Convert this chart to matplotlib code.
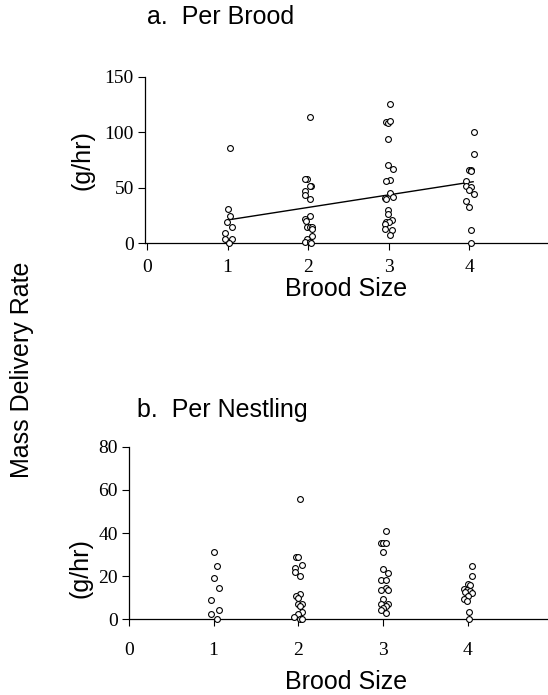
import matplotlib
matplotlib.use("Agg")
import matplotlib.pyplot as plt
import numpy as np

# ---------------- data ----------------
brood_sizes = [1, 2, 3, 4]

# a. per brood (g/hr), with small horizontal jitter (pixels) as seen in the figure
brood_a = {
    1: [85.6, 31.2, 24.6, 19.5, 14.7, 9.3, 3.9, 3.9, 0.5],
    2: [113.8, 58.2, 58.2, 51.6, 51.6, 47.4, 43.5, 40.2, 24.3, 22.2, 20.1,
        14.4, 14.4, 14.4, 12.9, 6.3, 3.6, 0.9, 0.9, 0.0],
    3: [125.5, 109.3, 108.5, 109.8, 94.2, 70.3, 66.7, 57.0, 56.1, 45.3, 42.0,
        40.5, 40.0, 29.7, 26.7, 21.3, 19.5, 19.5, 17.4, 13.2, 11.7, 7.5],
    4: [100.5, 80.5, 66.3, 66.3, 64.9, 56.4, 51.9, 50.4, 48.0, 44.7, 37.8,
        33.0, 11.7, 0.0],
}
jitter_a = {
    1: [2, 0, 2, -0.7, 4.7, -2.7, -2.3, 4.3, 1],
    2: [2, -0.7, -3, 3.3, 1.7, -3.3, -3, 1.7, 1.7, -3.3, -2.3, -0.7, 1.7, 3.7,
        4.3, 4, -0.7, -3.3, 1.7, 3.3],
    3: [1.3, -2.7, -0.7, 1.3, -0.7, -0.7, 4, 1.3, -2.7, 1.3, 4, -3.3, -2.7,
        -0.7, -0.7, 3.3, -2.7, 0, -3.3, -3.3, 3.3, 1],
    4: [5, 5, 0, 2.3, 2.3, -2.7, -2.7, 2.3, 0, 5, -2.7, 0, 2, 1.7],
}
reg_intercept = 9.7
reg_slope = 11.3
reg_x = [1.0, 4.05]

# b. per nestling (g/hr)
brood_b = {
    1: [31.0, 24.8, 19.3, 14.5, 9.1, 4.2, 2.3, 0.0],
    2: [55.8, 28.7, 28.7, 25.1, 23.9, 22.0, 19.9, 11.7, 11.0, 10.0, 6.9, 6.9,
        6.2, 3.4, 2.5, 1.0, 0.0, 0.0],
    3: [40.9, 35.5, 35.5, 35.5, 31.0, 23.1, 21.6, 18.0, 18.0, 14.5, 13.4, 13.4,
        9.3, 6.9, 6.9, 6.0, 5.2, 4.2, 2.9],
    4: [24.7, 20.0, 16.5, 15.7, 14.0, 13.5, 13.0, 12.5, 12.0, 11.0, 9.3, 8.3,
        3.2, 0.0],
}
jitter_b = {
    1: [0, 3.3, 0, 5.3, -2.7, 5.3, -2.7, 3],
    2: [2, -2.7, 0, 4, -3.3, -3.3, 2, 2, -2.7, 0, -0.7, 4, 2, 4, -0.7, -4, 2, 4],
    3: [3, -2.3, 0, 2.7, 0, 0, 5.3, -2.3, 3, 3, -2.3, 5.3, 0, -2.3, 5.3, 3, 0,
        -2.3, 3],
    4: [4, 4, 0, 2, -4, -0.7, 2, -2.3, 4.7, 0, -4, -0.7, 1.3, 1.3],
}

x_ticks = [0, 1, 2, 3, 4]
ya_ticks = [0, 50, 100, 150]
yb_ticks = [0, 20, 40, 60, 80]

# ---------------- figure ----------------
W, H = 548, 695
fig = plt.figure(figsize=(W / 100, H / 100), dpi=100)

serif = ["Liberation Serif", "DejaVu Serif"]
sans = ["Liberation Sans", "DejaVu Sans"]


def px_box(x0, x1, ytop, ybot):
    return [x0 / W, 1 - ybot / H, (x1 - x0) / W, (ybot - ytop) / H]


def style_axes(ax, yticks, xlim, ylim, xpad):
    ax.set_xlim(*xlim)
    ax.set_ylim(*ylim)
    for s in ["top", "right"]:
        ax.spines[s].set_visible(False)
    for s in ["left", "bottom"]:
        ax.spines[s].set_linewidth(0.9)
    ax.spines["bottom"].set_position(("data", 0))
    ax.set_xticks(x_ticks)
    ax.set_yticks(yticks)
    ax.tick_params(direction="out", length=5, width=0.8, labelsize=14, pad=3)
    for lab in ax.get_xticklabels() + ax.get_yticklabels():
        lab.set_family(serif)
    ax.tick_params(axis="x", pad=xpad)


def scatter_groups(ax, data, jitter, px_per_unit):
    for b in brood_sizes:
        vals = np.array(data[b], dtype=float)
        xs = b + np.array(jitter[b], dtype=float) / px_per_unit
        ax.plot(xs, vals, linestyle="none", marker="o", markersize=4.2,
                markerfacecolor="white", markeredgecolor="black",
                markeredgewidth=0.8, clip_on=False, zorder=3)


# panel a
ax1 = fig.add_axes(px_box(145, 548, 76.8, 243.3))
style_axes(ax1, ya_ticks, (-0.025, 4.98), (0, 150), 6)
scatter_groups(ax1, brood_a, jitter_a, 80.5)
rx = np.array(reg_x)
ax1.plot(rx, reg_intercept + reg_slope * rx, color="black", linewidth=1.0, zorder=2)

# panel b
ax2 = fig.add_axes(px_box(129, 548, 446.7, 619.3))
style_axes(ax2, yb_ticks, (0, 4.95), (0, 80), 11)
scatter_groups(ax2, brood_b, jitter_b, 84.7)

# texts
def ftext(x, y, s, **kw):
    fig.text(x / W, 1 - y / H, s, **kw)

FS = 18
ftext(147, 17, "a.  Per Brood", family=sans, fontsize=FS, ha="left", va="center")
ftext(346, 289, "Brood Size", family=sans, fontsize=FS, ha="center", va="center")
ftext(82, 160, "(g/hr)", family=sans, fontsize=FS, rotation=90, ha="center", va="center")
ftext(22, 370, "Mass Delivery Rate", family=sans, fontsize=FS, rotation=90,
      ha="center", va="center")
ftext(137, 410, "b.  Per Nestling", family=sans, fontsize=FS, ha="left", va="center")
ftext(80, 568, "(g/hr)", family=sans, fontsize=FS, rotation=90, ha="center", va="center")
ftext(346, 682, "Brood Size", family=sans, fontsize=FS, ha="center", va="center")

fig.savefig("out.png", dpi=100, facecolor="white")
